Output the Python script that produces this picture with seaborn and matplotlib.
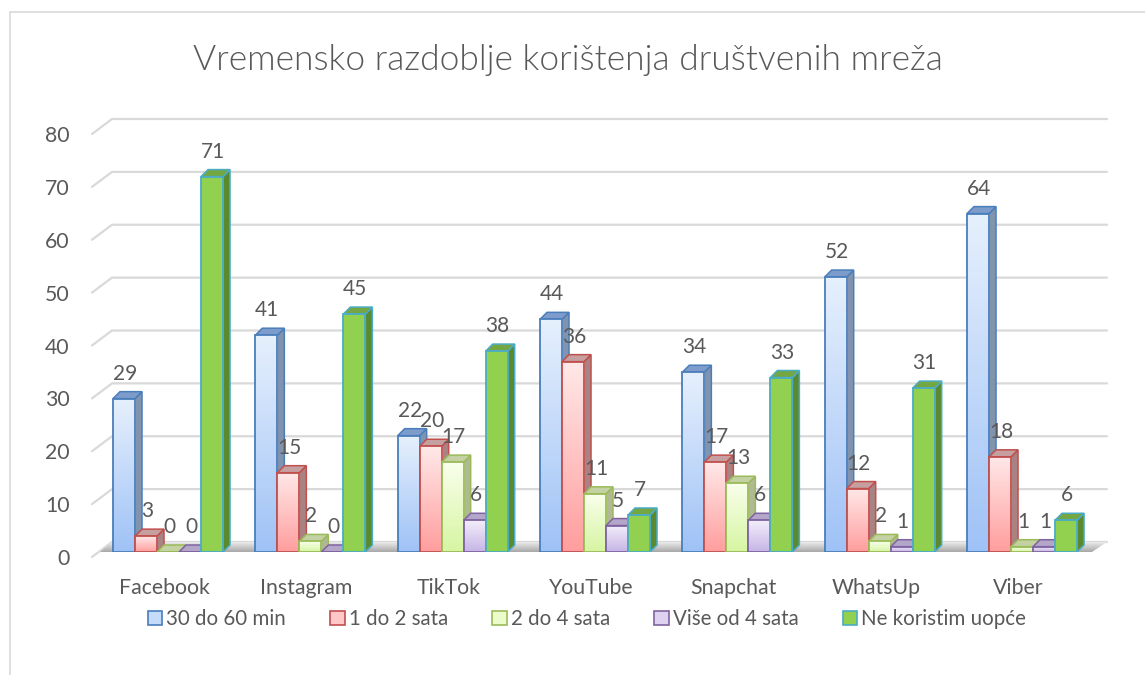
import numpy as np
import pandas as pd
import matplotlib.pyplot as plt
import seaborn as sns
from matplotlib.colors import LinearSegmentedColormap
from matplotlib.patches import Polygon, Patch
from matplotlib.lines import Line2D
from matplotlib.transforms import ScaledTranslation

platforms = ['Facebook', 'Instagram', 'TikTok', 'YouTube', 'Snapchat', 'WhatsUp', 'Viber']
periods = ['30 do 60 min', '1 do 2 sata', '2 do 4 sata', 'Više od 4 sata', 'Ne koristim uopće']
min_30_60 = [29, 41, 22, 44, 34, 52, 64]
h_1_2 = [3, 15, 20, 36, 17, 12, 18]
h_2_4 = [0, 2, 17, 11, 13, 2, 1]
more_4 = [0, 0, 6, 5, 6, 1, 1]
not_used = [71, 45, 38, 7, 33, 31, 6]
y_ticks = [0, 10, 20, 30, 40, 50, 60, 70, 80]

series = [min_30_60, h_1_2, h_2_4, more_4, not_used]

# front gradient (top, bottom), edge, side, top face
grad_top = ['#e6f0fd', '#ffe8e8', '#f9ffec', '#f3eefa', '#92d050']
grad_bot = ['#9fc2f6', '#ff9e9e', '#d6f5a2', '#c6b5e6', '#92d050']
edges = ['#4a7ebb', '#c0504d', '#9bbb59', '#8064a2', '#4bacc6']
sides = ['#8193ad', '#a98383', '#b0b894', '#a79db6', '#5b8a2e']
tops = ['#7d9ccc', '#c6a0a0', '#c3d1a3', '#b3a6c8', '#74a642']
legend_fill = ['#c5dbfa', '#ffc7c7', '#ebfbcc', '#ddd3f0', '#92d050']
text_col = '#595959'
grid_col = '#d9d9d9'

rows = []
for p, vals in zip(periods, series):
    for plat, v in zip(platforms, vals):
        rows.append({'platforma': plat, 'vrijeme': p, 'broj': v})
df = pd.DataFrame(rows)

sns.set_style('white')
plt.rcParams['font.family'] = ['Lato', 'DejaVu Sans']

W, H = 1145, 675
fig = plt.figure(figsize=(W / 100, H / 100), dpi=100)
ax = fig.add_axes([92 / W, 1 - 552 / H, (1107 - 92) / W, (552 - 129) / H])

sns.barplot(data=df, x='platforma', y='broj', hue='vrijeme', order=platforms,
            hue_order=periods, palette=legend_fill, width=0.773, saturation=1,
            legend=False, ax=ax)

XL = (-0.534, 6.597)
ax.set_xlim(*XL)
ax.set_ylim(0, 80)
for s in ax.spines.values():
    s.set_visible(False)


def shift(x, y, dx, dy):
    d = ax.transData.transform((x, y))
    return ax.transData.inverted().transform((d[0] + dx, d[1] + dy))


D = 7  # depth of 3d effect in px

# back wall grid lines and left wall diagonals
for t in y_ticks:
    a = shift(XL[0], t, 0, -5)
    b = shift(XL[0], t, 20, 10)
    c = shift(XL[1], t, 0, 10)
    ax.add_line(Line2D([a[0], b[0], c[0]], [a[1], b[1], c[1]], color=grid_col,
                       lw=1.6, zorder=0.5, clip_on=False))

# floor shadow
f_pts = [shift(XL[0], 0, 20, 10), shift(XL[1], 0, 0, 10),
         shift(XL[1], 0, -15, 0), shift(XL[0], 0, 8, 0)]
floor = Polygon(f_pts, closed=True, facecolor='none', edgecolor='none', zorder=1)
ax.add_patch(floor)
fcmap = LinearSegmentedColormap.from_list('floor', ['#a8a8a8', '#f2f2f2'])
im = ax.imshow(np.linspace(0, 1, 64).reshape(-1, 1), cmap=fcmap, aspect='auto',
               origin='lower', zorder=1,
               extent=[XL[0], XL[1], 0, shift(0, 0, 0, 10)[1]])
im.set_clip_path(floor)

for h, cont in enumerate(ax.containers):
    cmap = LinearSegmentedColormap.from_list('g%d' % h, [grad_bot[h], grad_top[h]])
    for bar, val in zip(cont, series[h]):
        x0 = bar.get_x()
        x1 = x0 + bar.get_width()
        top = bar.get_height()
        bar.set_edgecolor(edges[h])
        bar.set_linewidth(1.3)
        bar.set_zorder(4 + 2 * h)
        side_pts = [(x1, 0), (x1, top), shift(x1, top, D, D), shift(x1, 0, D, D)]
        ax.add_patch(Polygon(side_pts, closed=True, facecolor=sides[h],
                             edgecolor=edges[h], lw=1.1, zorder=3 + 2 * h))
        top_pts = [(x0, top), (x1, top), shift(x1, top, D, D), shift(x0, top, D, D)]
        ax.add_patch(Polygon(top_pts, closed=True, facecolor=tops[h],
                             edgecolor=edges[h], lw=1.1, zorder=3 + 2 * h))
        if h < 4 and top > 0:
            bar.set_facecolor('none')
            g = ax.imshow(np.linspace(0, 1, 64).reshape(-1, 1), cmap=cmap,
                          aspect='auto', origin='lower', zorder=3.5 + 2 * h,
                          extent=[x0, x1, 0, top])
            g.set_clip_path(bar)
        else:
            bar.set_facecolor(grad_top[h])
        ax.annotate(str(val), ((x0 + x1) / 2, top), xytext=(1, 25),
                    textcoords='offset pixels', ha='center', va='center',
                    fontsize=15, color=text_col, zorder=30)

ax.set_xlim(*XL)
ax.set_ylim(0, 80)
ax.set_yticks(y_ticks)
ax.set_xlabel('')
ax.set_ylabel('')
ax.tick_params(axis='both', length=0, labelsize=15.3, labelcolor=text_col)
ax.tick_params(axis='y', pad=16)
ax.tick_params(axis='x', pad=18.5)
ax.grid(False)

for lab in ax.get_yticklabels():
    lab.set_transform(lab.get_transform() + ScaledTranslation(0, -5 / 100, fig.dpi_scale_trans))
for lab in ax.get_xticklabels():
    lab.set_transform(lab.get_transform() + ScaledTranslation(-4 / 100, 0, fig.dpi_scale_trans))

fig.suptitle('Vremensko razdoblje korištenja društvenih mreža', x=568 / W, y=1 - 60 / H,
             va='center', fontsize=25.5, color=text_col, fontweight=300)

handles = [Patch(facecolor=legend_fill[i], edgecolor=edges[i], lw=1.2) for i in range(5)]
fig.legend(handles, periods, loc='center', bbox_to_anchor=(587 / W, 1 - 619 / H), ncol=5,
           frameon=False, fontsize=14.8, handlelength=0.7, handleheight=0.7,
           handletextpad=0.2, columnspacing=2.15, labelcolor=text_col)

# outer chart frame
fig.add_artist(Line2D([10 / W, 1], [1 - 12 / H, 1 - 12 / H], color=grid_col, lw=1.2))
fig.add_artist(Line2D([10 / W, 10 / W], [0, 1 - 12 / H], color=grid_col, lw=1.2))

fig.savefig('out.png', dpi=100)
